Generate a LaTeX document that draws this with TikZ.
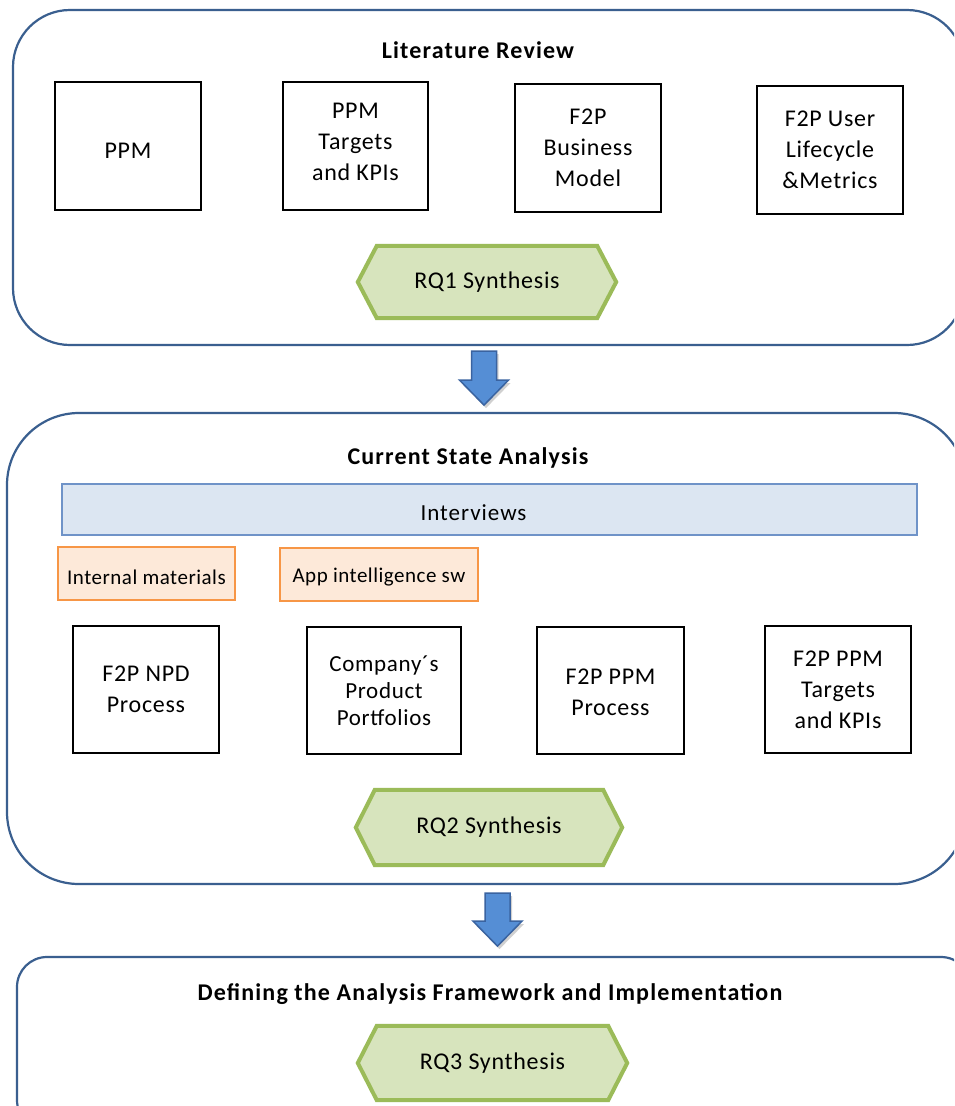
\documentclass[tikz,border=0pt]{standalone}
\usepackage{fontspec}
\setmainfont{Carlito}
\usetikzlibrary{calc,backgrounds,shadows}

\definecolor{framecol}{HTML}{3A5F8F}
\definecolor{hexfill}{HTML}{D7E4BD}
\definecolor{hexline}{HTML}{9BBB59}
\definecolor{barfill}{HTML}{DCE6F2}
\definecolor{barline}{HTML}{6F93C8}
\definecolor{srcfill}{HTML}{FDE9D9}
\definecolor{srcline}{HTML}{F79646}
\definecolor{arrfill}{HTML}{558ED5}
\definecolor{arrline}{HTML}{3A63A0}

% green hexagon drawn behind a named text node
\newcommand\rqhex[1]{%
  \begin{scope}[on background layer]
    \draw[hexshape] (#1.west) -- ([xshift=19pt]#1.north west) -- ([xshift=-19pt]#1.north east)
      -- (#1.east) -- ([xshift=-19pt]#1.south east) -- ([xshift=19pt]#1.south west) -- cycle;
  \end{scope}}
% centred lines that keep the font's line spacing
\newcommand\lines[1]{\begin{tabular}{@{}c@{}}#1\end{tabular}}
% move text vertically without changing the box size
\newcommand\vmove[2]{\raisebox{#1}[\height][\depth]{#2}}

\begin{document}
\begin{tikzpicture}[x=1pt,y=-1pt,
  stage/.style={draw=framecol,line width=2.2pt,inner sep=0pt},
  stagetitle/.style={font=\bfseries\fontsize{24}{28}\selectfont\addfontfeature{LetterSpace=4.8}},
  topic/.style={draw=black,line width=1.8pt,fill=white,align=center,inner sep=0pt,
    minimum width=146pt,minimum height=128pt,
    font=\fontsize{24}{31}\selectfont\addfontfeature{LetterSpace=3}},
  bar/.style={draw=barline,line width=1.8pt,fill=barfill,inner sep=0pt,
    font=\fontsize{23}{26}\selectfont\addfontfeature{LetterSpace=4.3}},
  source/.style={draw=srcline,line width=1.8pt,fill=srcfill,inner sep=0pt,
    minimum height=53pt,font=\fontsize{21}{25}\selectfont\addfontfeature{LetterSpace=2.4}},
  rq/.style={inner sep=0pt,font=\fontsize{24}{28}\selectfont\addfontfeature{LetterSpace=3}},
  hexshape/.style={draw=hexline,fill=hexfill,line width=4pt,line join=miter},
  blockarrow/.style={draw=arrline,fill=arrfill,line width=1.5pt,line join=miter,
    drop shadow={shadow xshift=2pt,shadow yshift=-3pt,opacity=0.3,fill=black!60}}]

\useasboundingbox (0,0) rectangle (954,1106);
\begin{scope}[on background layer]
  \fill[white] (0,0) rectangle (954,1106);
\end{scope}
\clip (0,0) rectangle (954,1106);

% ---- stage 1: literature review
\node[stage,rounded corners=57pt,minimum width=951pt,minimum height=335pt] (f1) at (488.5,177.5) {};
\node[stagetitle] (t1) at (478,50) {Literature Review};
\node[topic] (ppm) at (128,146) {\vmove{-5pt}{PPM}};
\node[topic,minimum width=145pt] (ppmkpi) at (355.5,146) {\vmove{3pt}{\lines{PPM\\Targets\\and KPIs}}};
\node[topic] (bm) at (588,148) {F2P\\Business\\Model};
\node[topic] (ulc) at (830,150) {F2P User\\Lifecycle\\\&Metrics};
\node[rq,minimum width=258pt,minimum height=72pt] (rq1) at (487,282) {RQ1 Synthesis};
\rqhex{rq1}

% ---- stage 2: current state analysis
\node[stage,rounded corners=72pt,minimum width=959pt,minimum height=471pt] (f2) at (486.5,648.5) {};
\node[stagetitle] (t2) at (468,458) {Current State Analysis};
\node[bar,minimum width=855pt,minimum height=51pt] (intv) at (489.5,509.5) {\hspace*{-32pt}\vmove{-3.5pt}{Interviews}};
\node[source,minimum width=177pt] (intm) at (146.5,573.5) {\vmove{-3.5pt}{Internal materials}};
\node[source,minimum width=198pt] (appsw) at (379,574.5) {\vmove{-3pt}{App intelligence sw}};
\node[topic,minimum height=127pt] (npd) at (146,689.5) {F2P NPD\\Process};
\node[topic,minimum width=154pt,minimum height=127pt,
  font=\fontsize{23}{27}\selectfont\addfontfeature{LetterSpace=3}] (port) at (384,690.5) {Company´s\\Product\\Portfolios};
\node[topic,minimum width=147pt,minimum height=127pt] (ppmproc) at (610.5,690.5) {\vmove{-3pt}{\lines{F2P PPM\\Process}}};
\node[topic,minimum height=127pt] (ppmtk) at (838,689.5) {F2P PPM\\Targets\\and KPIs};
\node[rq,minimum width=266pt,minimum height=75pt] (rq2) at (489,827.5) {RQ2 Synthesis};
\rqhex{rq2}

% ---- stage 3: analysis framework
\node[stage,rounded corners=30pt,minimum width=954pt,minimum height=173pt] (f3) at (494,1043.5) {};
\node[stagetitle] (t3) at (490,994) {Defining the Analysis Framework and Implementation};
\node[rq,minimum width=269pt,minimum height=74pt] (rq3) at (492.5,1063) {RQ3 Synthesis};
\rqhex{rq3}

% ---- block arrows between the stages
\coordinate (a1) at ($(f1.south)+(-4.5,5)$);
\coordinate (a2) at ($(f2.south)+(11,8)$);
\draw[blockarrow] (a1) ++(-12.5,0) -- ++(25,0) -- ++(0,29) -- ++(12,0) -- ++(-24.5,25)
  -- ++(-24.5,-25) -- ++(12,0) -- cycle;
\draw[blockarrow] (a2) ++(-12.5,0) -- ++(25,0) -- ++(0,28) -- ++(12,0) -- ++(-24.5,25)
  -- ++(-24.5,-25) -- ++(12,0) -- cycle;
\end{tikzpicture}
\end{document}
